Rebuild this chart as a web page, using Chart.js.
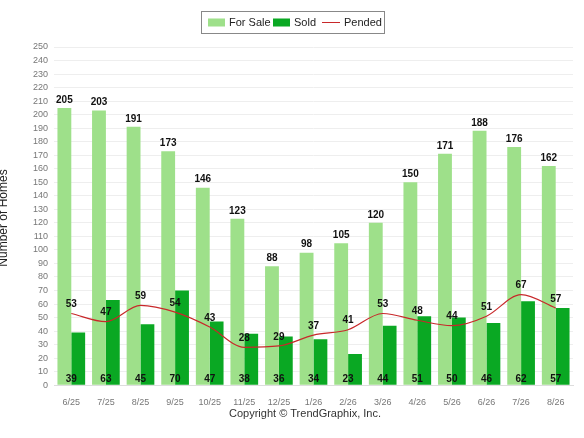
<!DOCTYPE html>
<html>
<head>
<meta charset="utf-8">
<script src="https://cdn.jsdelivr.net/npm/chart.js@4/dist/chart.umd.min.js"></script>
<style>
  html, body { margin: 0; padding: 0; background: #fff; }
  #wrap { width: 584px; height: 438px; position: relative; }
</style>
</head>
<body>
<div id="wrap"><canvas id="chart"></canvas></div>
<script>
// --- Data ---
const months = ['6/25', '7/25', '8/25', '9/25', '10/25', '11/25', '12/25', '1/26', '2/26', '3/26', '4/26', '5/26', '6/26', '7/26', '8/26'];
const forSale = [205, 203, 191, 173, 146, 123, 88, 98, 105, 120, 150, 171, 188, 176, 162];
const sold = [39, 63, 45, 70, 47, 38, 36, 34, 23, 44, 51, 50, 46, 62, 57];
const pended = [53, 47, 59, 54, 43, 28, 29, 37, 41, 53, 48, 44, 51, 67, 57];

const colSale = '#9ee08a';
const colSold = '#0aa823';
const colPend = '#c8282a';

// draws value labels, the boxed legend, the axis title and the copyright line
const extras = {
  id: 'extras',
  afterDatasetsDraw(chart) {
    const ctx = chart.ctx;
    ctx.save();
    ctx.font = 'bold 10px Arial, "Liberation Sans"';
    ctx.fillStyle = '#111';
    ctx.textAlign = 'center';
    ctx.textBaseline = 'bottom';
    chart.getDatasetMeta(0).data.forEach((bar, i) => {
      ctx.fillText(forSale[i], bar.x, bar.y - 3);
    });
    const yBottom = chart.scales.y.getPixelForValue(0);
    chart.getDatasetMeta(1).data.forEach((bar, i) => {
      ctx.fillText(sold[i], bar.x - bar.width / 2, yBottom - 1);
    });
    chart.getDatasetMeta(2).data.forEach((pt, i) => {
      ctx.fillText(pended[i], pt.x, pt.y - 4);
    });

    // legend
    const lx = 201, ly = 11, lw = 183, lh = 22;
    ctx.strokeStyle = '#888';
    ctx.lineWidth = 1;
    ctx.strokeRect(lx + 0.5, ly + 0.5, lw, lh);
    ctx.font = '11px Arial, "Liberation Sans"';
    ctx.textAlign = 'left';
    ctx.textBaseline = 'middle';
    const cy = ly + lh / 2 + 0.5;
    ctx.fillStyle = colSale;
    ctx.fillRect(208, cy - 4, 17, 8);
    ctx.fillStyle = '#222';
    ctx.fillText('For Sale', 229, cy);
    ctx.fillStyle = colSold;
    ctx.fillRect(273, cy - 4, 17, 8);
    ctx.fillStyle = '#222';
    ctx.fillText('Sold', 294, cy);
    ctx.strokeStyle = colPend;
    ctx.beginPath();
    ctx.moveTo(322, cy);
    ctx.lineTo(340, cy);
    ctx.stroke();
    ctx.fillText('Pended', 344, cy);

    // y axis title, partly cut at the left edge like the original
    ctx.save();
    ctx.translate(4, 218);
    ctx.rotate(-Math.PI / 2);
    ctx.textAlign = 'center';
    ctx.font = '12px Arial, "Liberation Sans"';
    ctx.fillStyle = '#222';
    ctx.fillText('Number of Homes', 0, 0);
    ctx.restore();

    ctx.font = '11px Arial, "Liberation Sans"';
    ctx.fillStyle = '#333';
    ctx.textAlign = 'center';
    ctx.fillText('Copyright \u00a9 TrendGraphix, Inc.', 305, 414);
    ctx.restore();
  }
};

new Chart(document.getElementById('chart').getContext('2d'), {
  type: 'bar',
  data: {
    labels: months,
    datasets: [
      {
        label: 'For Sale',
        data: forSale,
        backgroundColor: colSale,
        barPercentage: 1,
        categoryPercentage: 0.8,
        order: 2
      },
      {
        label: 'Sold',
        data: sold,
        backgroundColor: colSold,
        barPercentage: 1,
        categoryPercentage: 0.8,
        order: 2
      },
      {
        type: 'line',
        label: 'Pended',
        data: pended,
        borderColor: colPend,
        borderWidth: 1.2,
        pointRadius: 0,
        cubicInterpolationMode: 'monotone',
        fill: false,
        order: 1
      }
    ]
  },
  options: {
    responsive: true,
    maintainAspectRatio: false,
    animation: false,
    layout: { padding: { top: 47, bottom: 26, left: 19, right: 11 } },
    plugins: {
      legend: { display: false },
      tooltip: { enabled: false }
    },
    scales: {
      x: {
        grid: { display: false },
        border: { color: '#ddd' },
        ticks: { autoSkip: false, maxRotation: 0, color: '#777', font: { size: 9, family: 'Arial, "Liberation Sans"' }, padding: 4 }
      },
      y: {
        min: 0,
        max: 250,
        grid: { color: '#eeeeee', drawTicks: false },
        border: { display: false },
        afterFit(scale) { scale.width = 35; },
        ticks: { stepSize: 10, autoSkip: false, color: '#777', font: { size: 9, family: 'Arial, "Liberation Sans"' }, padding: 6 }
      }
    }
  },
  plugins: [extras]
});
</script>
</body>
</html>
